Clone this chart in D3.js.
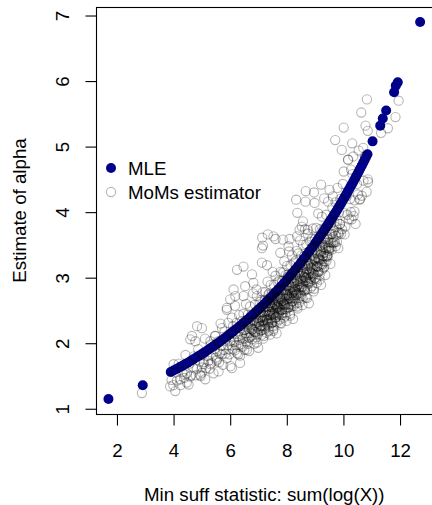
<!DOCTYPE html>
<html>
<head>
<meta charset="utf-8">
<script src="https://cdn.jsdelivr.net/npm/d3@7"></script>
<style>
  html, body { margin: 0; padding: 0; background: #fff; }
  svg { display: block; }
  text { font-family: "Liberation Sans", Arial, Helvetica, sans-serif; }
</style>
</head>
<body>
<svg id="chart" width="432" height="505"></svg>
<script>
// ---- data ----
// MLE estimates: [sum(log X), alpha]
const mlePoints = [
  [1.70,1.15],[2.91,1.36],
  [3.9,1.560],[4.0,1.583],[4.1,1.606],[4.2,1.630],[4.3,1.654],[4.4,1.678],[4.5,1.703],[4.6,1.729],
  [4.7,1.755],[4.8,1.781],[4.9,1.808],[5.0,1.836],[5.1,1.864],[5.2,1.893],[5.3,1.922],[5.4,1.952],
  [5.5,1.982],[5.6,2.013],[5.7,2.045],[5.8,2.077],[5.9,2.110],[6.0,2.143],[6.1,2.177],[6.2,2.212],
  [6.3,2.247],[6.4,2.283],[6.5,2.320],[6.6,2.358],[6.7,2.396],[6.8,2.435],[6.9,2.475],[7.0,2.516],
  [7.1,2.557],[7.2,2.599],[7.3,2.642],[7.4,2.686],[7.5,2.731],[7.6,2.777],[7.7,2.824],[7.8,2.871],
  [7.9,2.920],[8.0,2.969],[8.1,3.020],[8.2,3.071],[8.3,3.124],[8.4,3.177],[8.5,3.232],[8.6,3.288],
  [8.7,3.345],[8.8,3.403],[8.9,3.462],[9.0,3.522],[9.05,3.553],[9.1,3.584],[9.15,3.615],[9.2,3.646],
  [9.25,3.678],[9.3,3.710],[9.35,3.743],[9.4,3.776],[9.45,3.809],[9.5,3.842],[9.55,3.876],[9.6,3.910],
  [9.65,3.944],[9.7,3.979],[9.75,4.014],[9.8,4.050],[9.85,4.086],[9.9,4.122],[9.95,4.159],[10.0,4.196],
  [10.05,4.233],[10.1,4.271],[10.15,4.309],[10.2,4.348],[10.25,4.387],[10.3,4.426],[10.35,4.465],[10.4,4.505],
  [10.45,4.546],[10.5,4.587],[10.55,4.628],[10.6,4.670],[10.65,4.712],[10.7,4.754],[10.75,4.797],[10.8,4.840],
  [10.85,4.884],
  [11.03,5.08],[11.30,5.32],[11.39,5.43],[11.51,5.55],[11.79,5.83],[11.85,5.93],[11.92,5.98],[12.71,6.90]
];

// Method-of-moments estimates: [sum(log X), alpha]
const momPoints = [
  // sparse, individually visible circles
  [10.83,5.72],[11.95,5.70],[10.63,5.52],[11.84,5.45],[10.01,5.29],[10.78,5.32],[11.57,5.28],[10.86,5.24],
  [11.33,5.21],[9.71,5.10],[10.31,5.05],[9.94,4.95],[10.70,4.98],[10.16,4.80],[10.35,4.85],[10.01,4.62],
  [10.27,4.65],[10.86,4.50],[9.21,4.42],[9.51,4.34],[8.96,4.30],[9.63,4.24],[10.51,4.27],[8.67,4.32],
  [8.33,4.19],[10.57,4.19],[8.98,4.14],[8.66,4.16],[8.37,3.99],[10.39,4.01],[8.57,3.86],[8.74,3.73],
  [7.13,3.61],[7.33,3.66],[7.60,3.59],[7.86,3.58],[8.10,3.59],[8.45,3.73],[7.16,3.49],[7.53,3.63],
  [7.12,3.45],[6.24,3.12],[6.47,3.17],[7.12,3.23],[7.30,3.19],[6.77,3.05],[6.12,2.82],[6.00,2.67],
  [6.18,2.72],[6.53,2.87],[6.93,2.82],[5.88,2.51],[6.06,2.39],[4.83,2.26],[5.00,2.23],[5.71,2.23],
  [5.30,2.03],[4.65,2.11],[4.59,2.06],[4.77,2.03],[5.88,2.54],[6.17,2.57],[5.47,2.11],[4.00,1.68],
  [3.88,1.34],[4.06,1.27],[4.41,1.52],[4.59,1.49],[4.24,1.45],[4.47,1.40],[5.00,1.55],[5.12,1.45],
  [5.30,1.68],[5.06,1.68],[4.94,1.52],[5.59,1.57],[6.06,1.62],[6.35,1.70],[5.53,1.75],[6.29,1.83],
  [6.59,1.90],[6.94,2.01],[7.18,2.11],[7.53,2.26],[2.88,1.24],
  [6.47,2.72],[6.82,2.92],[7.77,3.38],[8.06,3.48],[8.36,3.63],[8.53,3.78],[7.35,2.74],
  // dense cloud
  [3.93,1.44],[3.99,1.36],[4.06,1.55],[4.12,1.43],[4.18,1.69],[4.24,1.36],[4.31,1.56],[4.37,1.47],
  [4.42,1.82],[4.47,1.54],[4.53,1.37],[4.57,1.69],[4.62,1.51],[4.68,1.63],[4.72,1.80],[4.78,1.51],[4.82,1.61],[4.87,1.91],
  [4.92,1.72],[4.96,1.50],[5.00,1.63],[5.03,1.83],[5.07,1.71],[5.11,2.07],[5.15,1.62],[5.19,1.81],[5.23,1.73],
  [5.27,1.61],[5.31,1.98],[5.34,1.70],[5.38,1.81],
  [5.41,1.54],[5.44,1.91],[5.47,2.11],[5.49,1.78],[5.52,1.73],[5.55,1.88],[5.58,2.03],[5.61,1.71],[5.63,1.84],
  [5.66,2.30],[5.69,1.96],[5.72,1.83],[5.74,1.67],[5.77,1.90],[5.80,2.18],[5.83,1.84],[5.86,2.06],[5.88,1.77],
  [5.91,1.97],[5.93,2.31],[5.95,1.91],[5.97,1.83],[5.99,2.03],[6.01,1.65],[6.04,2.16],[6.06,1.97],[6.08,1.91],
  [6.10,2.26],[6.12,2.05],[6.14,2.02],[6.16,1.89],[6.18,2.14],[6.20,1.97],[6.22,2.31],[6.24,1.85],[6.26,2.10],
  [6.29,1.97],[6.31,2.43],[6.33,2.05],[6.35,1.81],[6.37,2.23],[6.39,1.98],
  [6.41,2.13],[6.42,2.34],[6.44,1.95],[6.45,2.07],[6.47,2.45],[6.48,2.20],[6.50,1.90],[6.51,2.07],[6.53,2.31],
  [6.54,2.15],[6.56,2.60],[6.57,2.02],[6.59,2.26],[6.60,2.15],[6.62,1.99],[6.63,2.44],[6.65,2.09],[6.66,2.21],
  [6.67,1.88],[6.69,2.32],[6.70,2.56],[6.72,2.16],[6.73,2.10],[6.75,2.27],[6.76,2.44],[6.78,2.06],[6.79,2.21],
  [6.81,2.76],[6.82,2.35],[6.84,2.18],[6.85,1.99],[6.87,2.27],[6.88,2.59],[6.89,2.17],
  [6.91,2.43],[6.92,2.09],[6.93,2.31],[6.94,2.72],[6.96,2.25],[6.97,2.15],[6.98,2.38],[6.99,1.93],[7.00,2.52],
  [7.01,2.29],[7.02,2.22],[7.04,2.63],[7.05,2.38],[7.06,2.34],[7.07,2.19],[7.08,2.47],[7.09,2.27],[7.10,2.66],
  [7.12,2.13],[7.13,2.42],[7.14,2.27],[7.15,2.78],[7.16,2.35],[7.17,2.07],[7.18,2.54],[7.20,2.26],[7.21,2.42],
  [7.22,2.66],[7.23,2.22],[7.24,2.35],[7.25,2.78],[7.26,2.49],[7.28,2.16],[7.29,2.35],[7.30,2.62],[7.31,2.43],
  [7.32,2.94],[7.33,2.28],[7.34,2.55],[7.36,2.43],[7.37,2.25],[7.38,2.76],[7.39,2.36],[7.40,2.50],
  [7.41,2.13],[7.42,2.61],[7.43,2.89],[7.44,2.43],[7.45,2.36],[7.46,2.55],[7.47,2.75],[7.48,2.31],[7.49,2.48],
  [7.50,3.09],[7.51,2.63],[7.52,2.44],[7.53,2.22],[7.54,2.53],[7.55,2.89],[7.56,2.43],[7.57,2.71],[7.58,2.33],
  [7.59,2.58],[7.60,3.03],[7.61,2.50],[7.62,2.40],[7.63,2.65],[7.64,2.15],[7.65,2.80],[7.66,2.55],[7.67,2.47],
  [7.68,2.93],[7.69,2.65],[7.70,2.60],[7.71,2.43],[7.72,2.75],[7.73,2.53],[7.74,2.96],[7.75,2.36],[7.76,2.68],
  [7.77,2.51],[7.78,3.09],[7.79,2.61],[7.80,2.30],[7.81,2.82],[7.82,2.51],[7.83,2.68],[7.84,2.95],[7.85,2.46],
  [7.86,2.61],[7.87,3.08],[7.88,2.76],[7.89,2.39],[7.90,2.60],[7.45,2.68],[7.65,2.58],
  [7.91,3.25],[7.92,2.52],[7.93,2.82],[7.94,2.68],[7.95,2.47],[7.96,3.04],[7.97,2.60],[7.98,2.75],[7.99,2.34],
  [8.00,2.88],[8.01,3.18],[8.02,2.68],[8.03,2.60],[8.04,2.81],[8.05,3.02],[8.06,2.55],[8.07,2.73],[8.08,3.40],
  [8.09,2.89],[8.10,2.69],[8.11,2.45],[8.12,2.79],[8.13,3.19],[8.14,2.68],[8.15,2.99],[8.16,2.56],[8.17,2.84],
  [8.18,3.34],[8.19,2.76],[8.20,2.64],[8.21,2.92],[8.22,2.37],[8.23,3.09],[8.24,2.81],[8.25,2.73],[8.26,3.23],
  [8.27,2.92],[8.28,2.86],[8.29,2.68],[8.30,3.03],[8.31,2.78],[8.32,3.26],[8.33,2.61],[8.34,2.96],[8.35,2.77],
  [8.36,3.41],[8.37,2.88],[8.38,2.53],[8.39,3.11],[8.40,2.76],[7.95,2.74],[8.05,3.05],[8.15,2.59],[8.25,2.79],
  [8.41,3.37],[8.42,3.03],[8.43,2.62],[8.44,2.85],[8.45,3.17],[8.46,2.95],[8.47,3.57],[8.48,2.77],[8.49,3.10],
  [8.50,2.94],[8.51,2.72],[8.52,3.34],[8.53,2.86],[8.54,3.03],[8.55,2.58],[8.56,3.17],[8.57,3.50],[8.58,2.95],
  [8.59,2.86],[8.60,3.09],[8.61,3.33],[8.62,2.80],[8.63,3.01],[8.64,3.74],[8.65,3.18],[8.66,2.96],[8.67,2.70],
  [8.68,3.07],[8.69,3.51],[8.70,2.94],[8.71,3.28],[8.72,2.82],[8.73,3.13],[8.74,3.67],[8.75,3.04],[8.76,2.91],
  [8.77,3.22],[8.78,2.61],[8.79,3.40],[8.80,3.10],[8.81,3.00],[8.82,3.55],[8.83,3.22],[8.84,3.15],[8.85,2.95],
  [8.86,3.34],[8.87,3.07],[8.88,3.59],[8.89,2.87],[8.90,3.25],
  [8.91,3.05],[8.92,3.75],[8.94,3.17],[8.95,2.79],[8.96,3.43],[8.97,3.05],[8.99,3.27],[9.00,3.59],[9.01,3.00],
  [9.02,3.18],[9.04,3.76],[9.05,3.38],[9.06,2.92],[9.07,3.17],[9.09,3.54],[9.10,3.30],[9.11,3.98],[9.12,3.09],
  [9.14,3.46],[9.15,3.29],[9.16,3.04],[9.17,3.74],[9.19,3.20],[9.20,3.39],[9.21,2.89],[9.22,3.55],[9.24,3.93],
  [9.25,3.31],[9.26,3.21],[9.27,3.47],[9.29,3.74],[9.30,3.15],[9.31,3.38],[9.32,4.21],[9.34,3.59],[9.35,3.33],
  [9.36,3.04],[9.37,3.46],[9.39,3.96],[9.40,3.32],
  [9.41,3.71],[9.43,3.34],[9.45,3.54],[9.46,4.16],[9.48,3.45],[9.50,3.44],[9.52,3.66],[9.54,3.21],[9.55,3.88],
  [9.57,3.54],[9.59,3.43],[9.61,4.07],[9.63,3.70],[9.64,3.62],[9.66,3.54],[9.68,3.85],[9.70,3.54],[9.72,4.15],
  [9.73,3.48],[9.75,3.77],[9.77,3.55],[9.79,4.37],[9.81,3.69],[9.82,3.45],[9.84,4.00],[9.86,3.69],[9.88,3.82],[9.89,4.20],
  [9.92,3.67],[9.95,3.74],[9.98,4.43],[10.01,3.99],[10.04,3.66],[10.07,3.78],[10.11,4.24],[10.14,3.96],
  [10.17,4.80],[10.20,3.89],[10.23,4.20],[10.26,4.00],[10.29,3.89],[10.32,4.58],[10.36,3.94],[10.39,4.18],
  [10.43,3.82],[10.48,4.43],[10.54,4.94],[10.59,4.20],[10.65,4.25],[10.71,4.48],[10.76,4.85],[10.82,4.31],[10.87,4.46],
  // dark core just below the MLE curve
  [6.525,2.21],[6.575,2.11],[6.625,2.30],[6.675,2.08],[6.725,2.24],[6.775,2.21],[6.825,2.35],[6.875,2.17],
  [6.925,2.34],[6.975,2.13],
  [7.010,2.32],[7.035,2.48],[7.060,2.26],[7.085,2.40],[7.110,2.20],[7.135,2.34],[7.160,2.48],[7.185,2.33],
  [7.210,2.42],[7.235,2.27],[7.260,2.49],[7.285,2.37],[7.310,2.57],[7.335,2.31],[7.360,2.48],[7.385,2.44],
  [7.410,2.58],[7.435,2.38],[7.460,2.55],[7.485,2.32],[7.510,2.52],[7.535,2.69],[7.560,2.46],[7.585,2.60],
  [7.610,2.39],[7.635,2.54],[7.660,2.69],[7.685,2.54],[7.710,2.63],[7.735,2.47],[7.760,2.71],[7.785,2.58],
  [7.810,2.79],[7.835,2.51],[7.860,2.70],[7.885,2.65],[7.910,2.81],[7.935,2.58],[7.960,2.77],[7.985,2.52],
  [8.010,2.74],[8.035,2.93],[8.060,2.67],[8.085,2.83],[8.110,2.60],[8.135,2.76],[8.160,2.93],[8.185,2.76],
  [8.210,2.86],[8.235,2.69],[8.260,2.95],[8.285,2.80],[8.310,3.04],[8.335,2.73],[8.360,2.94],[8.385,2.88],
  [8.410,3.06],[8.435,2.81],[8.460,3.02],[8.485,2.74],[8.510,2.98],[8.535,3.19],[8.560,2.91],[8.585,3.08],
  [8.610,2.83],[8.635,3.01],[8.660,3.19],[8.685,3.00],[8.710,3.12],[8.735,2.93],[8.760,3.21],[8.785,3.05],
  [8.810,3.31],[8.835,2.98],[8.860,3.20],[8.885,3.14],[8.910,3.33],[8.935,3.07],[8.960,3.29],[8.985,2.99],
  [9.010,3.25],[9.035,3.47],[9.060,3.17],[9.085,3.36],[9.110,3.09],[9.135,3.28],[9.160,3.48],[9.185,3.27],
  [9.210,3.40],[9.235,3.19],[9.260,3.50],[9.285,3.33],[9.310,3.61],[9.335,3.25],[9.360,3.49],[9.385,3.43],
  [9.410,3.63],[9.435,3.34],[9.460,3.59],[9.485,3.41],[9.510,3.54],[9.535,3.79],[9.560,3.46],[9.585,3.67],
  [9.625,3.53],[9.675,3.72],[9.725,3.64],[9.775,3.87],[9.825,3.66],[9.875,3.82],
  // lower part of the dark band
  [7.32,2.33],[7.36,2.19],[7.40,2.47],[7.44,2.30],[7.48,2.45],[7.52,2.19],[7.56,2.59],[7.60,2.39],
  [7.64,2.32],[7.68,2.56],[7.72,2.46],[7.76,2.31],[7.80,2.67],[7.84,2.43],[7.88,2.59],[7.92,2.58],
  [7.96,2.42],[8.00,2.73],[8.04,2.54],[8.08,2.71],[8.12,2.42],[8.16,2.87],[8.20,2.64],[8.24,2.57],
  [8.28,2.83],[8.32,2.73],[8.36,2.56],[8.40,2.95],[8.44,2.69],[8.48,2.87],[8.52,2.85],[8.56,2.68],
  [8.60,3.02],[8.64,2.81],[8.68,3.00],[8.72,2.69],[8.76,3.18],[8.80,2.93],[8.84,2.84],[8.88,3.14],
  [8.92,3.02],[8.96,2.83],[9.00,3.28],[9.04,2.98],[9.08,3.18],[9.12,3.16],[9.16,2.97],[9.20,3.35],
  [9.24,3.12],[9.28,3.33],[9.32,3.16],[9.36,3.53],[9.40,3.25],[9.44,3.32],[9.48,3.48]
];

const xTicks = [2, 4, 6, 8, 10, 12];
const yTicks = [1, 2, 3, 4, 5, 6, 7];
const legendItems = ["MLE", "MoMs estimator"];
const xLabel = "Min suff statistic: sum(log(X))";
const yLabel = "Estimate of alpha";

(function () {
  const W = 432, H = 505;
  const FONT = 18.7;
  const pL = 96, pR = 432.6, pT = 7, pB = 414;
  const momStroke = "rgba(0,0,0,0.29)";

  const svg = d3.select("#chart");
  svg.append("rect").attr("width", W).attr("height", H).attr("fill", "#fff");

  // R-style 4% padded domains from the MLE series
  const xe = d3.extent(mlePoints, d => d[0]);
  const ye = d3.extent(mlePoints, d => d[1]);
  const xp = (xe[1] - xe[0]) * 0.04, yp = (ye[1] - ye[0]) * 0.04;
  const x = d3.scaleLinear().domain([xe[0] - xp, xe[1] + xp]).range([pL, pR]);
  const y = d3.scaleLinear().domain([ye[0] - yp, ye[1] + yp]).range([pB, pT]);

  svg.append("defs").append("clipPath").attr("id", "clip")
    .append("rect").attr("x", pL).attr("y", pT).attr("width", pR - pL).attr("height", pB - pT);

  const pts = svg.append("g").attr("clip-path", "url(#clip)");

  // MLE: filled dark blue dots
  pts.selectAll("circle.mle").data(mlePoints).join("circle")
    .attr("class", "mle")
    .attr("cx", d => x(d[0])).attr("cy", d => y(d[1]))
    .attr("r", 5).attr("fill", "#00008B");

  // MoMs: open translucent circles drawn on top
  pts.selectAll("circle.mom").data(momPoints).join("circle")
    .attr("class", "mom")
    .attr("cx", d => x(d[0])).attr("cy", d => y(d[1]))
    .attr("r", 4.6).attr("fill", "none")
    .attr("stroke", momStroke).attr("stroke-width", 1.1);

  // box
  svg.append("rect")
    .attr("x", 96.5).attr("y", 7.5).attr("width", 433 - 96.5).attr("height", 414.5 - 7.5)
    .attr("fill", "none").attr("stroke", "#000").attr("stroke-width", 1.1);

  // x axis
  const xAxis = d3.axisBottom(x).tickValues(xTicks).tickSize(11).tickPadding(0).tickFormat(d3.format("d"));
  const gx = svg.append("g").attr("transform", `translate(0,${pB + 0.5})`).call(xAxis);
  gx.select(".domain").remove();
  gx.selectAll(".tick line").attr("stroke", "#000").attr("stroke-width", 1.1);
  gx.selectAll(".tick text").attr("font-size", FONT).attr("fill", "#000")
    .attr("dy", null).attr("y", 456.7 - (pB + 0.5))
    .attr("font-family", "'Liberation Sans', Arial, sans-serif");

  // y axis (labels parallel to the axis)
  const yAxis = d3.axisLeft(y).tickValues(yTicks).tickSize(11).tickPadding(0).tickFormat(d3.format("d"));
  const gy = svg.append("g").attr("transform", `translate(${pL + 0.5},0)`).call(yAxis);
  gy.select(".domain").remove();
  gy.selectAll(".tick line").attr("stroke", "#000").attr("stroke-width", 1.1);
  gy.selectAll(".tick text").attr("font-size", FONT).attr("fill", "#000")
    .attr("x", null).attr("dy", null)
    .attr("text-anchor", "middle")
    .attr("font-family", "'Liberation Sans', Arial, sans-serif")
    .attr("transform", `translate(${68.5 - (pL + 0.5)},0) rotate(-90)`);

  // axis titles
  svg.append("text").attr("x", (pL + pR) / 2).attr("y", 500.7)
    .attr("text-anchor", "middle").attr("font-size", FONT).attr("fill", "#000").text(xLabel);
  svg.append("text").attr("transform", `translate(25.5,${(pT + pB) / 2}) rotate(-90)`)
    .attr("text-anchor", "middle").attr("font-size", FONT).attr("fill", "#000").text(yLabel);

  // legend
  const lg = svg.append("g");
  const legY = [168, 192];
  lg.append("circle").attr("cx", 111).attr("cy", legY[0]).attr("r", 5).attr("fill", "#00008B");
  lg.append("circle").attr("cx", 111).attr("cy", legY[1]).attr("r", 4.6).attr("fill", "none")
    .attr("stroke", momStroke).attr("stroke-width", 1.1);
  legendItems.forEach((t, i) => {
    lg.append("text").attr("x", 128).attr("y", legY[i] + 6.7)
      .attr("font-size", FONT).attr("fill", "#000").text(t);
  });
})();
</script>
</body>
</html>
